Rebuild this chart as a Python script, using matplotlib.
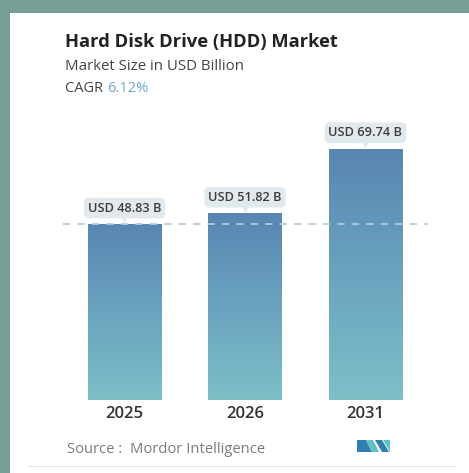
import numpy as np
import matplotlib
matplotlib.use("Agg")
import matplotlib.pyplot as plt
from matplotlib.patches import Rectangle, Polygon
from matplotlib.colors import LinearSegmentedColormap

# chart data
years = ["2025", "2026", "2031"]
values = [48.83, 51.82, 69.74]
labels = ["USD 48.83 B", "USD 51.82 B", "USD 69.74 B"]
title = "Hard Disk Drive (HDD) Market"
subtitle = "Market Size in USD Billion"
cagr = "6.12%"
source = "Source :  Mordor Intelligence"

W, H = 469, 473
FONT = ["Open Sans", "DejaVu Sans"]
plt.rcParams["font.family"] = FONT


def fx(px):
    return px / W


def fy(py):
    # pixel row (from top) -> figure fraction
    return 1 - py / H


fig = plt.figure(figsize=(W / 100, H / 100), dpi=100)
fig.patch.set_facecolor("#769e95")

# white card, kept behind the axes
fig.patches.append(Rectangle((fx(10), 0), 1 - fx(10), fy(13), transform=fig.transFigure,
                             facecolor="white", edgecolor="none", zorder=-5))

# bar axes, laid out so that 0 sits at pixel row 400
ax_left, ax_right = 63, 428
ax_bottom, ax_top = 400, 110
px_per_unit = 3.6
ax = fig.add_axes([fx(ax_left), fy(ax_bottom), fx(ax_right - ax_left), (ax_bottom - ax_top) / H])
ax.set_zorder(2)
ax.axis("off")

x = np.arange(len(years))
bw = 0.606
bars = ax.bar(x, values, width=bw, color="none", edgecolor="none", zorder=2)

# each bar fades from blue at the top to teal at the base
cmap = LinearSegmentedColormap.from_list("bar", ["#7dbfc7", "#6aa3bf", "#5886b2"])
for b, v in zip(bars, values):
    grad = np.linspace(0, 1, 256).reshape(-1, 1)
    im = ax.imshow(grad, cmap=cmap, vmin=0, vmax=1, origin="lower", aspect="auto",
                   extent=(b.get_x(), b.get_x() + b.get_width(), 0, v), zorder=2)
    im.set_clip_path(b)

ax.set_xlim(-0.51, 2.519)
ax.set_ylim(0, (ax_bottom - ax_top) / px_per_unit)

# dashed reference line at the first value
ax.axhline(values[0], color="#b3cadc", lw=1.3, ls=(0, (4, 4)), zorder=3)

# value callouts
for xi, v, lab in zip(x, values, labels):
    ax.plot(xi, v + 1.35, marker="v", ms=6, color="#e1e9ef", mec="none", zorder=4)
    ax.text(xi, v + 4.5, lab, ha="center", va="center", fontsize=9.2, color="#3b3b3b",
            fontweight="semibold", zorder=5,
            bbox=dict(boxstyle="round,pad=0.3,rounding_size=0.4", fc="#e1e9ef", ec="none"))

# year labels
for xi, yr in zip(x, years):
    ax.text(xi, -3.9, yr, ha="center", va="center", fontsize=12, color="#333333",
            fontweight="semibold", clip_on=False)

# header
fig.text(fx(65), fy(42), title, fontsize=13.2, fontweight="bold", color="#222222", va="center")
fig.text(fx(65), fy(66), subtitle, fontsize=10.8, color="#444444", va="center")
t = fig.text(fx(65), fy(88), "CAGR ", fontsize=10.5, color="#444444", va="center")
fig.canvas.draw()
bb = t.get_window_extent()
fig.text(bb.x1 / W, fy(88), cagr, fontsize=10.5, color="#6fa6cf", va="center")

# footer
fig.text(fx(67), fy(449), source, fontsize=10.6, color="#7a7a7a", va="center")
logo = [
    ([(357, 452), (357, 440), (366, 440), (372, 452)], "#2f7fb0"),
    ([(366, 440), (373, 440), (379, 452), (372, 452)], "#5ec2c7"),
    ([(375, 440), (382, 440), (389, 452), (382, 452)], "#2f7fb0"),
    ([(383, 440), (390, 440), (390, 452)], "#5ec2c7"),
]
for pts, c in logo:
    fig.patches.append(Polygon([(fx(a), fy(b)) for a, b in pts], closed=True,
                               transform=fig.transFigure, facecolor=c, edgecolor="none"))
fig.add_artist(plt.Line2D([fx(28), fx(455)], [fy(466), fy(466)], color="#e4e4e4", lw=0.8))

fig.savefig("out.png", dpi=100)
